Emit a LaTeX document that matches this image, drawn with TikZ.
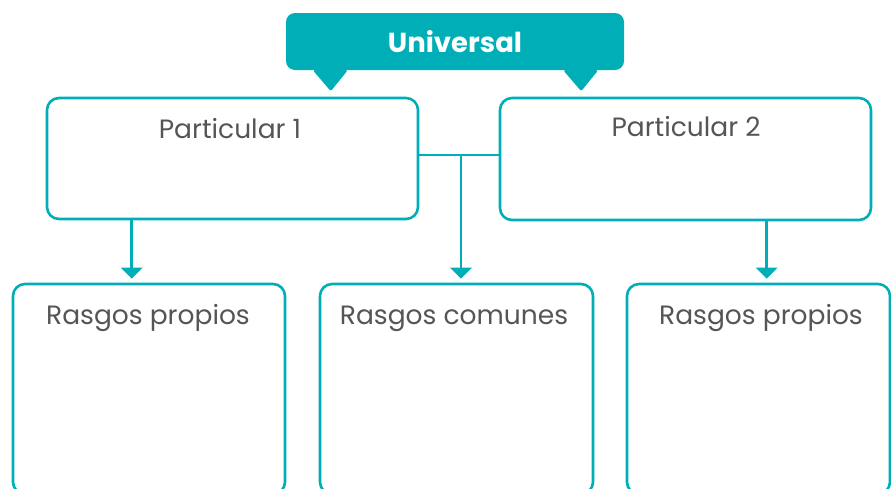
\documentclass[tikz,border=0pt]{standalone}
\usepackage{fontspec}
\setmainfont{Poppins}
\usetikzlibrary{arrows.meta,calc}
\definecolor{teal1}{HTML}{00AEB7}
\definecolor{txtgray}{HTML}{555555}
\tikzset{
  box/.style={draw=teal1, line width=2.6pt, rounded corners=12pt, inner sep=0pt},
  lbl/.style={text=txtgray, font=\fontsize{26.5}{30}\selectfont, inner sep=0pt, anchor=base},
  arr/.style={draw=teal1, line width=2.6pt, -{Triangle[width=21pt,length=11pt]}},
  conn/.style={draw=teal1, line width=2.6pt},
}
\begin{document}
\begin{tikzpicture}[x=1pt,y=-1pt]
\useasboundingbox (0,0) rectangle (891,488);
\clip (0,0) rectangle (891,488);
% banner
\node[fill=teal1, rounded corners=9pt, minimum width=338pt, minimum height=57pt, inner sep=0pt] (U) at (455,41.5) {};
\fill[teal1, rounded corners=2pt] ([xshift=27pt]U.south west) -- ([xshift=45pt,yshift=-21pt]U.south west) -- ([xshift=62pt]U.south west) -- cycle;
\fill[teal1, rounded corners=2pt] ([xshift=-61pt]U.south east) -- ([xshift=-43pt,yshift=-21pt]U.south east) -- ([xshift=-26pt]U.south east) -- cycle;
\node[text=white, font=\bfseries\fontsize{27.5}{30}\selectfont, inner sep=0pt, anchor=base] (Ut) at (455,52) {Universal};
% particular boxes
\node[box, minimum width=371pt, minimum height=121pt] (P1) at (232.5,158.5) {};
\node[box, minimum width=371pt, minimum height=122pt] (P2) at (685.5,159) {};
\node[lbl] (P1t) at (230,138) {Particular 1};
\node[lbl] (P2t) at (686,136) {Particular 2};
% bottom boxes
\node[box, minimum width=272pt, minimum height=210pt] (R1) at (149,389) {};
\node[box, minimum width=273pt, minimum height=210pt] (R2) at (456.5,389) {};
\node[box, minimum width=263pt, minimum height=210pt] (R3) at (758.5,389) {};
\node[lbl] (R1t) at (148,324) {Rasgos propios};
\node[lbl] (R2t) at (454,324) {Rasgos comunes};
\node[lbl] (R3t) at (761,324) {Rasgos propios};
% connectors
\coordinate (J) at (461,155);
\draw[conn] (P1.east |- J) -- (P2.west |- J);
\draw[arr, shorten >=4pt] (J) -- (J |- R2.north);
\draw[arr, shorten >=4pt] ([xshift=86pt]P1.south west) -- ([xshift=86pt]P1.south west |- R1.north);
\draw[arr, shorten >=4pt] ([xshift=268pt]P2.south west) -- ([xshift=268pt]P2.south west |- R3.north);
\end{tikzpicture}
\end{document}
